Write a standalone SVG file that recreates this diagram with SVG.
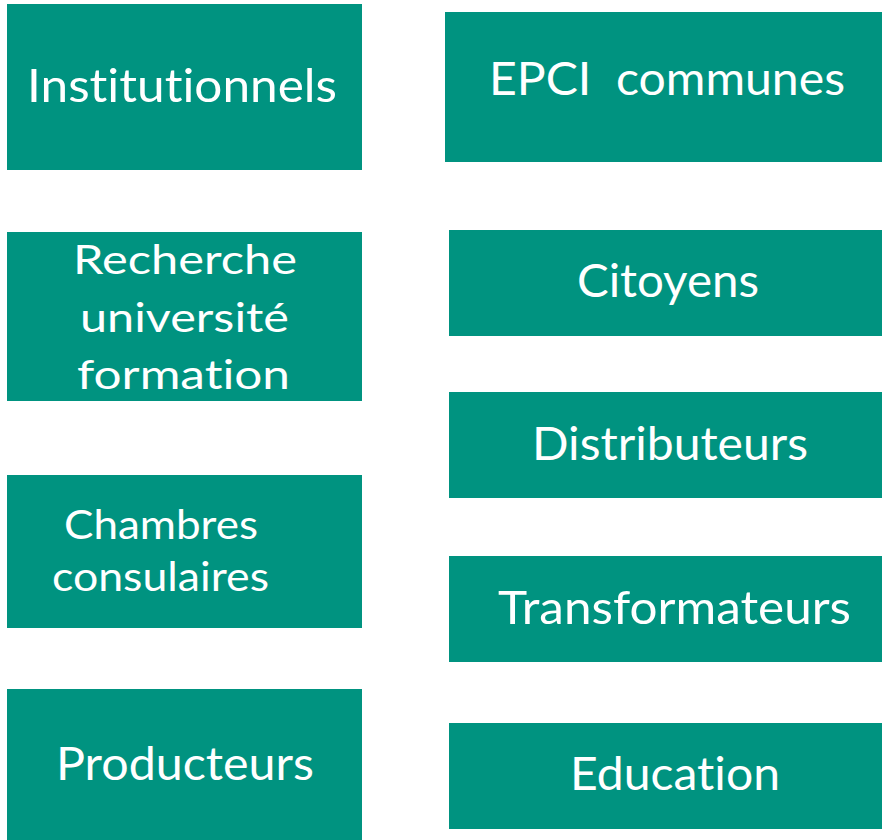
<svg xmlns="http://www.w3.org/2000/svg" width="882" height="840" viewBox="0 0 882 840">
<style>
.box{fill:#009380}
.t{fill:#ffffff;font-family:Lato,"Open Sans","Liberation Sans",sans-serif;font-size:47px;font-variant-ligatures:none;font-feature-settings:"liga" 0,"clig" 0;white-space:pre}
.s{font-size:41.5px}
</style>
<rect width="882" height="840" fill="#ffffff"/>
<g id="connectors"/>
<g id="institutionnels">
<rect class="box" x="7" y="4" width="355" height="166"/>
<text class="t" x="27" y="102" textLength="310" lengthAdjust="spacingAndGlyphs">Institutionnels</text>
</g>
<g id="recherche">
<rect class="box" x="7" y="232" width="355" height="169"/>
<text class="t s" x="73" y="274" textLength="224" lengthAdjust="spacingAndGlyphs">Recherche</text>
<text class="t s" x="80" y="331.5" textLength="209" lengthAdjust="spacingAndGlyphs">université</text>
<text class="t s" x="77" y="389" textLength="213" lengthAdjust="spacingAndGlyphs">formation</text>
</g>
<g id="chambres">
<rect class="box" x="7" y="475" width="355" height="153"/>
<text class="t s" x="64" y="538.5" textLength="194" lengthAdjust="spacingAndGlyphs">Chambres</text>
<text class="t s" x="52" y="590.5" textLength="217" lengthAdjust="spacingAndGlyphs">consulaires</text>
</g>
<g id="producteurs">
<rect class="box" x="7" y="689" width="355" height="151"/>
<text class="t" x="56" y="780" textLength="258" lengthAdjust="spacingAndGlyphs">Producteurs</text>
</g>
<g id="epci">
<rect class="box" x="445" y="12" width="437" height="150"/>
<text class="t" x="489" y="95" textLength="356" lengthAdjust="spacingAndGlyphs" xml:space="preserve">EPCI  communes</text>
</g>
<g id="citoyens">
<rect class="box" x="449" y="230" width="433" height="106"/>
<text class="t" x="577" y="296.5" textLength="182" lengthAdjust="spacingAndGlyphs">Citoyens</text>
</g>
<g id="distributeurs">
<rect class="box" x="449" y="392" width="433" height="106"/>
<text class="t" x="532" y="460" textLength="276" lengthAdjust="spacingAndGlyphs">Distributeurs</text>
</g>
<g id="transformateurs">
<rect class="box" x="449" y="556" width="433" height="106"/>
<text class="t" x="498" y="623.5" textLength="353" lengthAdjust="spacingAndGlyphs">Transformateurs</text>
</g>
<g id="education">
<rect class="box" x="449" y="723" width="433" height="106"/>
<text class="t" x="570" y="790" textLength="210" lengthAdjust="spacingAndGlyphs">Education</text>
</g>
</svg>
